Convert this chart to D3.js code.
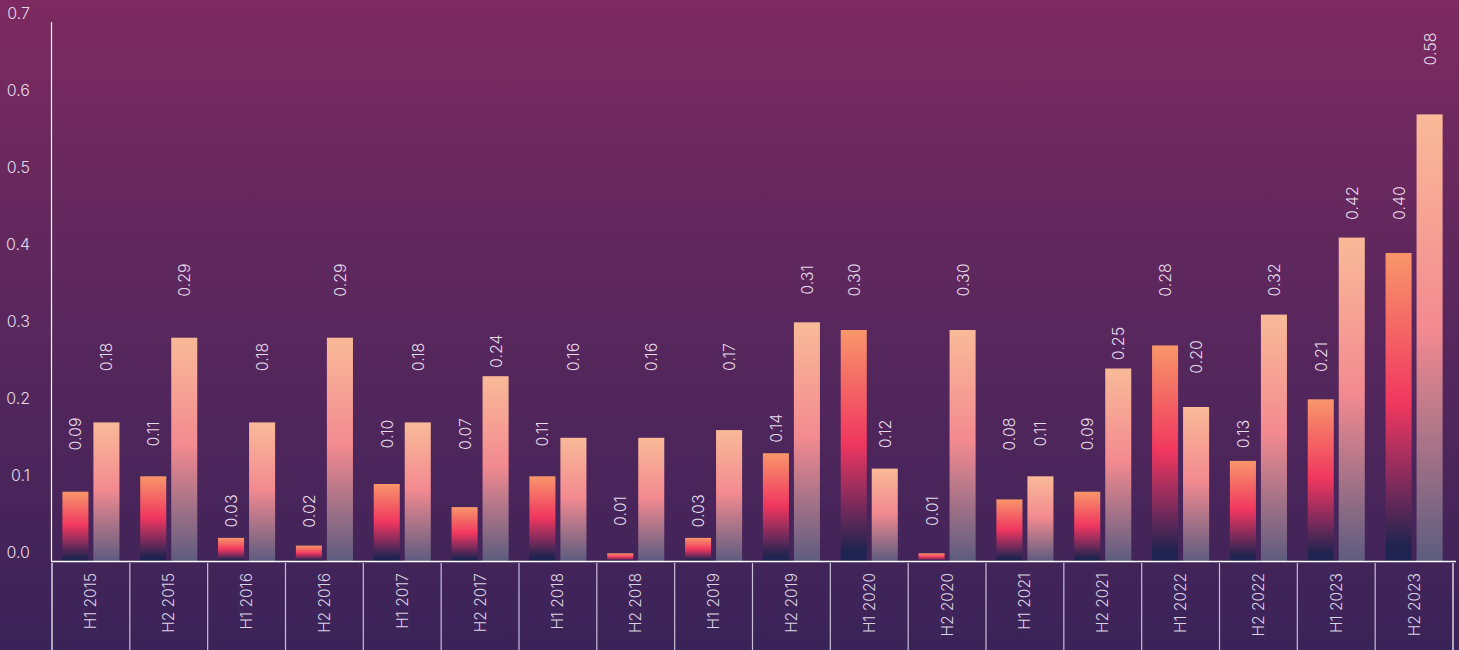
<!DOCTYPE html>
<html>
<head>
<meta charset="utf-8">
<script src="https://cdn.jsdelivr.net/npm/d3@7"></script>
<style>
  html, body { margin: 0; padding: 0; overflow: hidden; background: #3b2357; }
  svg { display: block; }
  text { font-family: "Inter", "Noto Sans", sans-serif; font-weight: 300; }
</style>
</head>
<body>
<svg id="chart" width="1459" height="650"></svg>
<script>
const categories = ["H1 2015","H2 2015","H1 2016","H2 2016","H1 2017","H2 2017","H1 2018","H2 2018","H1 2019","H2 2019","H1 2020","H2 2020","H1 2021","H2 2021","H1 2022","H2 2022","H1 2023","H2 2023"];
const seriesA = [0.09,0.11,0.03,0.02,0.10,0.07,0.11,0.01,0.03,0.14,0.30,0.01,0.08,0.09,0.28,0.13,0.21,0.40];
const seriesB = [0.18,0.29,0.18,0.29,0.18,0.24,0.16,0.16,0.17,0.31,0.12,0.30,0.11,0.25,0.20,0.32,0.42,0.58];
const seriesKeys = ["a", "b"];
const yTicks = [0, 0.1, 0.2, 0.3, 0.4, 0.5, 0.6, 0.7];

const W = 1459, H = 650;
const svg = d3.select("#chart");
const defs = svg.append("defs");

// background gradient
const bg = defs.append("linearGradient").attr("id", "bg").attr("x1", 0).attr("y1", 0).attr("x2", 0).attr("y2", 1);
[[0, "#7d2a60"], [0.5, "#58275d"], [1, "#3a2358"]].forEach(([o, c]) => bg.append("stop").attr("offset", o).attr("stop-color", c));
svg.append("rect").attr("width", W).attr("height", H).attr("fill", "url(#bg)");

// bar gradients (object bounding box)
const gA = defs.append("linearGradient").attr("id", "gA").attr("x1", 0).attr("y1", 0).attr("x2", 0).attr("y2", 1);
[[0, "#f8966a"], [0.49, "#f0375f"], [0.75, "#7f2b5c"], [0.95, "#21244f"], [1, "#1e2352"]].forEach(([o, c]) => gA.append("stop").attr("offset", o).attr("stop-color", c));
const gB = defs.append("linearGradient").attr("id", "gB").attr("x1", 0).attr("y1", 0).attr("x2", 0).attr("y2", 1);
[[0, "#f9ba98"], [0.48, "#f38a90"], [1, "#5d5c7f"]].forEach(([o, c]) => gB.append("stop").attr("offset", o).attr("stop-color", c));

const y = d3.scaleLinear().domain([0, 0.7]).range([561, 22]);
const x0 = d3.scaleBand().domain(categories).range([52, 1453]).padding(0);
const x1 = d3.scaleBand().domain(seriesKeys).range([0, x0.bandwidth()]).paddingInner(0.16).paddingOuter(0.335);

const rows = categories.map((c, i) => ({ cat: c, vals: [{ key: "a", v: seriesA[i] }, { key: "b", v: seriesB[i] }] }));

const groups = svg.append("g").selectAll("g").data(rows).join("g")
  .attr("transform", d => `translate(${x0(d.cat)},0)`);

groups.selectAll("rect").data(d => d.vals).join("rect")
  .attr("x", d => x1(d.key))
  .attr("width", x1.bandwidth())
  .attr("y", d => y(d.v))
  .attr("height", d => y(0) - y(d.v))
  .attr("fill", d => d.key === "a" ? "url(#gA)" : "url(#gB)");

// value labels
function labelY(v) {
  const level = Math.ceil(v * 10 - 0.5) / 10;
  return Math.min(y(level) - 50, y(v) - 25);
}
groups.selectAll("text.val").data(d => d.vals).join("text")
  .attr("class", "val")
  .attr("transform", d => `translate(${x1(d.key) + x1.bandwidth() / 2},${labelY(d.v)}) rotate(-90)`)
  .attr("text-anchor", "middle")
  .attr("dominant-baseline", "central")
  .attr("fill", "#e6dcea")
  .attr("font-size", 16)
  .text(d => d.v.toFixed(2));

// y axis
svg.append("line").attr("x1", 51.5).attr("x2", 51.5).attr("y1", y(0.7)).attr("y2", y(0) + 1)
  .attr("stroke", "#ffffff").attr("stroke-width", 1.2);
svg.append("g").selectAll("text").data(yTicks).join("text")
  .attr("x", 30).attr("y", d => y(d) - 3)
  .attr("text-anchor", "end")
  .attr("fill", "#e3d9e8")
  .attr("font-size", 16)
  .text(d => d.toFixed(1));

// x axis baseline
svg.append("line").attr("x1", 51).attr("x2", 1456).attr("y1", 561.5).attr("y2", 561.5)
  .attr("stroke", "#ffffff").attr("stroke-width", 1.5);

// category dividers
const bounds = categories.map(c => x0(c)).concat([x0(categories[categories.length - 1]) + x0.bandwidth()]);
svg.append("g").selectAll("line").data(bounds).join("line")
  .attr("x1", d => d).attr("x2", d => d).attr("y1", 563).attr("y2", H)
  .attr("stroke", (d, i) => i === 0 || i === bounds.length - 1 ? "#ffffff" : "#c9bfd6")
  .attr("stroke-width", 1.2);

// category labels
svg.append("g").selectAll("text").data(categories).join("text")
  .attr("transform", d => `translate(${x0(d) + x0.bandwidth() / 2},573) rotate(-90)`)
  .attr("text-anchor", "end")
  .attr("dominant-baseline", "central")
  .attr("fill", "#ddd3e4")
  .attr("font-size", 15.5)
  .text(d => d);
</script>
</body>
</html>
